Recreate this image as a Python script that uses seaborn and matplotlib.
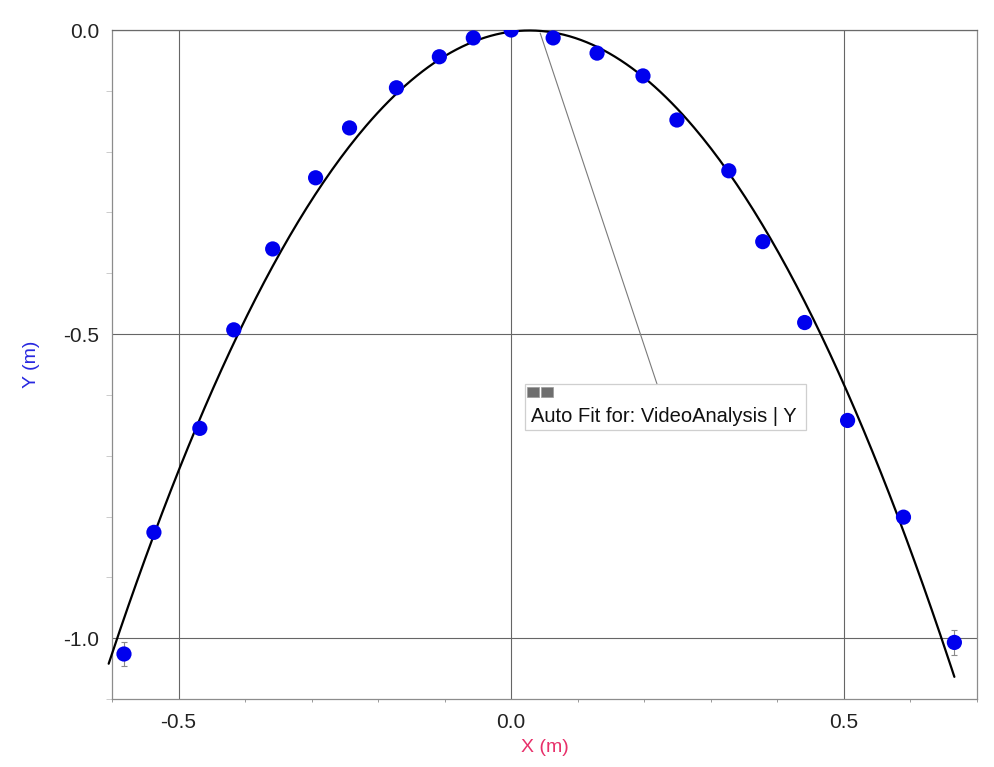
import numpy as np
import pandas as pd
import matplotlib
matplotlib.use("Agg")
import matplotlib.pyplot as plt
import seaborn as sns
from matplotlib.patches import Rectangle
from matplotlib.ticker import MultipleLocator

# ---- data ----
x_m = [-0.582, -0.537, -0.468, -0.417, -0.3585, -0.294, -0.243, -0.1725, -0.108, -0.057,
       0.0, 0.063, 0.129, 0.198, 0.249, 0.327, 0.378, 0.441, 0.5055, 0.5895, 0.666]
y_m = [-1.026, -0.826, -0.655, -0.493, -0.360, -0.243, -0.161, -0.095, -0.044, -0.013,
       0.0, -0.013, -0.038, -0.0755, -0.148, -0.2315, -0.348, -0.481, -0.642, -0.801, -1.007]
fit_x_range = [-0.605, 0.666]
x_ticks = [-0.5, 0.0, 0.5]
y_ticks = [-1.0, -0.5, 0.0]
x_label = "X (m)"
y_label = "Y (m)"
fit_label = "Auto Fit for: VideoAnalysis | Y"

df = pd.DataFrame({"X": x_m, "Y": y_m})

# quadratic auto fit of the data
coef = np.polyfit(df["X"], df["Y"], 2)
fx = np.linspace(fit_x_range[0], fit_x_range[1], 300)
fit_df = pd.DataFrame({"X": fx, "Y": np.polyval(coef, fx)})

sns.set_theme(style="white")
plt.rcParams["font.family"] = ["Liberation Sans", "DejaVu Sans"]

W, H = 994, 767
fig = plt.figure(figsize=(W / 100, H / 100), dpi=100)
L, R, T, B = 112, 977, 30, 699
ax = fig.add_axes([L / W, 1 - B / H, (R - L) / W, (B - T) / H])
ax.set_facecolor("white")

ax.set_xlim(-0.6, 0.7)
ax.set_ylim(-1.1, 0.0)

# grid
ax.set_xticks(x_ticks)
ax.set_yticks(y_ticks)
ax.xaxis.set_minor_locator(MultipleLocator(0.1))
ax.yaxis.set_minor_locator(MultipleLocator(0.1))
ax.grid(True, which="major", color="#666666", linewidth=0.8)
ax.set_axisbelow(True)

# error brackets on first and last points
ends = df.iloc[[0, -1]]
ax.errorbar(ends["X"], ends["Y"], yerr=0.02, fmt="none", ecolor="#8a8a8a",
            elinewidth=0.8, capsize=2.5, capthick=0.8, zorder=2)

# fit curve
sns.lineplot(data=fit_df, x="X", y="Y", ax=ax, color="black", linewidth=1.6,
             sort=False, zorder=3, clip_on=False)

# data points
sns.scatterplot(data=df, x="X", y="Y", ax=ax, color="#0000ee", s=120,
                edgecolor="none", zorder=4)

# ticks / labels
ax.set_xticklabels([f"{v:.1f}" for v in x_ticks])
ax.set_yticklabels([f"{v:.1f}" for v in y_ticks])
ax.tick_params(axis="both", which="major", labelsize=15, colors="#222222", direction="out")
ax.tick_params(axis="x", which="major", length=4.3, width=0.8, pad=6, color="#555555")
ax.tick_params(axis="y", which="major", length=8.6, width=0.8, pad=0.5, color="#555555")
ax.tick_params(axis="x", which="minor", length=2.2, width=0.7, color="#999999", bottom=True)
ax.tick_params(axis="y", which="minor", length=4.3, width=0.6, color="#c4c4c4", left=True)

ax.set_xlabel(x_label, fontsize=14, color="#e8306a", va="center")
ax.set_ylabel(y_label, fontsize=14, color="#2828e0", va="center")
ax.xaxis.set_label_coords(0.5, (B - 748) / (B - T))
ax.yaxis.set_label_coords((31 - L) / (R - L), 0.5)

for name, sp in ax.spines.items():
    sp.set_visible(True)
    sp.set_linewidth(0.9)
    sp.set_color("#8c8c8c")
ax.spines["top"].set_color("#6a6a6a")

# annotation box with leader line
ax.annotate("", xy=(0.0435, -0.005), xycoords="data",
            xytext=(657 / W, 1 - 384 / H), textcoords="figure fraction",
            arrowprops=dict(arrowstyle="-", color="#7a7a7a", lw=0.8,
                            shrinkA=0, shrinkB=0))
bx0, bx1, by0, by1 = 525, 806, 384, 430
fig.patches.append(Rectangle((bx0 / W, 1 - by1 / H), (bx1 - bx0) / W, (by1 - by0) / H,
                             transform=fig.transFigure, facecolor="white",
                             edgecolor="#cfcfcf", linewidth=0.9, zorder=5))
for ix in (527, 541):
    fig.patches.append(Rectangle((ix / W, 1 - 397 / H), 12 / W, 10 / H,
                                 transform=fig.transFigure, facecolor="#6e6e6e",
                                 edgecolor="#9a9a9a", linewidth=0.5, zorder=6))
fig.text(531 / W, 1 - 422 / H, fit_label, fontsize=14.5, color="#111111",
         ha="left", va="baseline", zorder=7)

fig.savefig("out.png", dpi=100, facecolor="white")
